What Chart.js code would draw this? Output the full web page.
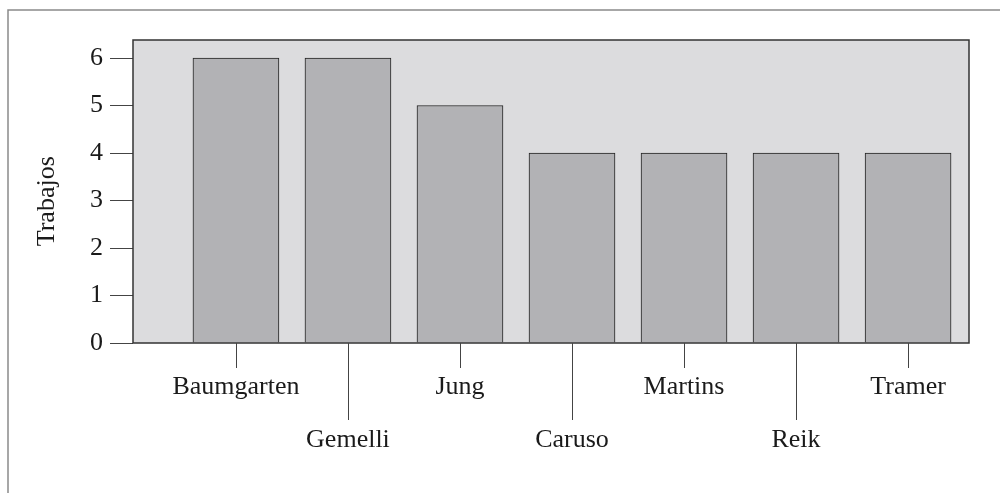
<!DOCTYPE html>
<html>
<head>
<meta charset="utf-8">
<script src="https://cdn.jsdelivr.net/npm/chart.js@4"></script>
<style>
  html, body { margin: 0; padding: 0; background: #fff; }
  #wrap { width: 1000px; height: 493px; position: relative; }
</style>
</head>
<body>
<div id="wrap"><canvas id="bar-chart" width="1000" height="493"></canvas></div>
<script>
const categories = ["Baumgarten", "Gemelli", "Jung", "Caruso", "Martins", "Reik", "Tramer"];
const trabajos = [6, 6, 5, 4, 4, 4, 4];
const yTicks = [0, 1, 2, 3, 4, 5, 6];

const serif = "'Liberation Serif', 'Times New Roman', serif";

// background panel, outer frame, staggered tick lines
const panelPlugin = {
    id: "panel",
    beforeDraw(chart) {
        const c = chart.ctx;
        const a = chart.chartArea;
        c.save();
        c.fillStyle = "#dcdcde";
        c.fillRect(a.left, a.top, a.right - a.left, a.bottom - a.top);
        c.strokeStyle = "#8a8a8a";
        c.lineWidth = 1.5;
        c.beginPath();
        c.moveTo(1000, 10);
        c.lineTo(8, 10);
        c.lineTo(8, 493);
        c.stroke();
        c.restore();
    },
    afterDatasetsDraw(chart) {
        const c = chart.ctx;
        const a = chart.chartArea;
        const xs = chart.scales.x;
        c.save();
        c.strokeStyle = "#333";
        c.lineWidth = 1.5;
        c.strokeRect(a.left, a.top, a.right - a.left, a.bottom - a.top);
        c.strokeStyle = "#444";
        c.lineWidth = 1;
        categories.forEach(function (name, i) {
            const px = Math.round(xs.getPixelForValue(i)) + 0.5;
            c.beginPath();
            c.moveTo(px, a.bottom);
            c.lineTo(px, a.bottom + (i % 2 ? 77 : 25));
            c.stroke();
        });
        c.restore();
    }
};

const ctx = document.getElementById("bar-chart").getContext("2d");

const barChart = new Chart(ctx, {
    type: "bar",
    data: {
        datasets: [{
            label: "Trabajos",
            data: trabajos.map(function (v, i) { return { x: i, y: v }; }),
            backgroundColor: "#b2b2b5",
            borderColor: "#222",
            borderWidth: 1,
            barThickness: 86
        }]
    },
    plugins: [panelPlugin],
    options: {
        responsive: false,
        animation: false,
        layout: { padding: { left: 0, top: 40, right: 31, bottom: 0 } },
        plugins: {
            legend: { display: false },
            tooltip: { enabled: false }
        },
        scales: {
            x: {
                type: "linear",
                offset: false,
                min: -0.919,
                max: 6.544,
                afterBuildTicks(scale) {
                    scale.ticks = categories.map(function (n, i) { return { value: i }; });
                },
                afterFit(scale) { scale.height = 150; },
                grid: { display: false },
                border: { display: false },
                ticks: {
                    autoSkip: false,
                    maxRotation: 0,
                    padding: 10,
                    color: "#1a1a1a",
                    font: { family: serif, size: 26, lineHeight: 2.04 },
                    callback(value) {
                        const name = categories[value];
                        return value % 2 ? ["", name] : name;
                    }
                }
            },
            y: {
                min: 0,
                max: 6.38,
                afterBuildTicks(scale) {
                    scale.ticks = yTicks.map(function (v) { return { value: v }; });
                },
                afterFit(scale) { scale.width = 133; },
                grid: {
                    drawOnChartArea: false,
                    drawTicks: true,
                    tickLength: 23,
                    tickColor: "#444"
                },
                border: { display: false },
                ticks: {
                    padding: 7,
                    color: "#1a1a1a",
                    font: { family: serif, size: 26 }
                },
                title: {
                    display: true,
                    text: "Trabajos   ",
                    color: "#1a1a1a",
                    font: { family: serif, size: 26 },
                    padding: { top: 32, bottom: 0 }
                }
            }
        }
    }
});
</script>
</body>
</html>
